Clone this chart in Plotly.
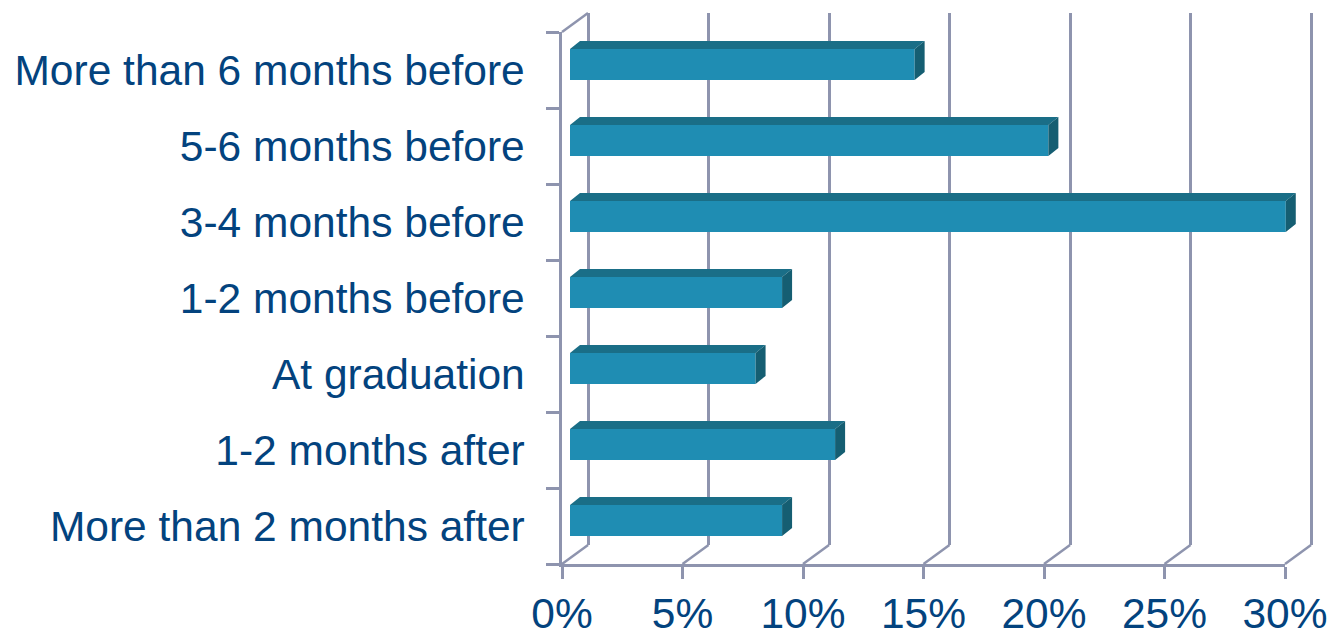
import plotly.graph_objects as go

categories = ["More than 6 months before", "5-6 months before", "3-4 months before",
              "1-2 months before", "At graduation", "1-2 months after", "More than 2 months after"]
values = [14.3, 19.85, 29.7, 8.8, 7.7, 11.0, 8.8]
x_ticks = [0, 5, 10, 15, 20, 25, 30]
x_labels = ["0%", "5%", "10%", "15%", "20%", "25%", "30%"]

W, H = 1330, 632
LEFT, RIGHT, TOP, BOTTOM = 562.0, 1285.0, 32.0, 564.0
BACK_DX, BACK_DY = 26.0, -19.0
BAR_DX, BAR_DY = 8.0, -5.5
XMAX = 30
NCAT = len(categories)
PX_X = (RIGHT - LEFT) / XMAX
PX_Y = (BOTTOM - TOP) / NCAT
BAR_W = 31 / PX_Y
DX, DY = 10 / PX_X, 8 / PX_Y

LINE = "#8E94AE"
LW = 2.5
TEXT = "#03437E"
C_FRONT = "#1F8DB3"
C_TOP = "#1A6E87"
C_SIDE = "#155E72"
FONT = "Liberation Sans"
FS = 42.5


def xdom(shift, pad0=0.0, pad1=0.0):
    return [(LEFT + shift - pad0) / W, (RIGHT + shift + pad1) / W]


def ydom(shift, pad_top=0.0, pad_bottom=0.0):
    return [1 - (BOTTOM + shift + pad_bottom) / H, 1 - (TOP + shift - pad_top) / H]


fig = go.Figure()

# invisible carrier so the back-wall gridlines are drawn
fig.add_trace(go.Scatter(x=values, y=list(range(NCAT)), mode="markers", marker=dict(opacity=0),
                         hoverinfo="skip", xaxis="x", yaxis="y"))

# connectors between the front axes and the back wall, in front-axis units
bx, by = BACK_DX / PX_X, -BACK_DY / PX_Y
cx, cy = [], []
for t in x_ticks:
    cx += [t, t + bx, None]
    cy += [NCAT - 0.5, NCAT - 0.5 - by, None]
cx += [0, bx, None]
cy += [-0.5, -0.5 - by, None]
fig.add_trace(go.Scatter(x=cx, y=cy, mode="lines", line=dict(color=LINE, width=LW),
                         hoverinfo="skip", xaxis="x4", yaxis="y4"))

# front faces
fig.add_trace(go.Bar(x=values, y=list(range(NCAT)), orientation="h", width=BAR_W,
                     marker=dict(color=C_FRONT, line=dict(width=0)),
                     hovertext=categories, hoverinfo="text+x", xaxis="x3", yaxis="y3"))

# top and side faces
tx, ty, sx, sy = [], [], [], []
for i, v in enumerate(values):
    t, b = i - BAR_W / 2, i + BAR_W / 2
    tx += [0, DX, v + DX, v, 0, None]
    ty += [t, t - DY, t - DY, t, t, None]
    sx += [v, v + DX, v + DX, v, v, None]
    sy += [t, t - DY, b - DY, b, t, None]
fig.add_trace(go.Scatter(x=tx, y=ty, mode="lines", fill="toself", fillcolor=C_TOP,
                         line=dict(width=0, color=C_TOP), hoverinfo="skip", xaxis="x3", yaxis="y3"))
fig.add_trace(go.Scatter(x=sx, y=sy, mode="lines", fill="toself", fillcolor=C_SIDE,
                         line=dict(width=0, color=C_SIDE), hoverinfo="skip", xaxis="x3", yaxis="y3"))

# invisible carrier so the front axes are drawn
fig.add_trace(go.Scatter(x=values, y=list(range(NCAT)), mode="markers", marker=dict(opacity=0),
                         hoverinfo="skip", xaxis="x2", yaxis="y2"))

yrange = [NCAT - 0.5, -0.5]
hidden = dict(showticklabels=False, ticks="", showline=False, zeroline=False, showgrid=False,
              automargin=False)
XPAD = 0.5   # keeps the first and last wall gridlines away from the plot edges
BARPAD = 1.0 # room for the side face of the longest bar
CPAD = 6.0   # px of room around the connectors

fig.update_layout(
    width=W, height=H, margin=dict(l=0, r=0, t=0, b=0),
    paper_bgcolor="white", plot_bgcolor="rgba(0,0,0,0)", showlegend=False,
    font=dict(family=FONT, size=FS, color=TEXT),
    # back wall
    xaxis=dict(domain=xdom(BACK_DX, XPAD * PX_X, XPAD * PX_X), range=[-XPAD, XMAX + XPAD], anchor="y",
               tickmode="array", tickvals=x_ticks, showgrid=True, gridcolor=LINE, gridwidth=LW,
               showticklabels=False, ticks="", showline=False, zeroline=False, automargin=False),
    yaxis=dict(domain=ydom(BACK_DY), range=yrange, anchor="x", **hidden),
    # front axes with tick labels
    xaxis2=dict(domain=xdom(0), range=[0, XMAX], anchor="y2", tickmode="array", automargin=False,
                tickvals=x_ticks, ticktext=x_labels, ticks="outside", ticklen=12, tickwidth=LW,
                ticklabelstandoff=-2, tickcolor=LINE, showline=True, linecolor=LINE, linewidth=LW,
                showgrid=False, zeroline=False, tickfont=dict(size=FS, color=TEXT)),
    yaxis2=dict(domain=ydom(0), range=yrange, anchor="x2", tickmode="array", automargin=False,
                tickvals=list(range(NCAT)), ticktext=categories, ticks="", ticklen=0,
                ticklabelstandoff=26, showline=True, linecolor=LINE, linewidth=LW,
                showgrid=False, zeroline=False, tickfont=dict(size=FS, color=TEXT),
                minor=dict(tickmode="array", tickvals=[i - 0.5 for i in range(NCAT + 1)],
                           ticks="outside", ticklen=13, tickwidth=LW, tickcolor=LINE, showgrid=False)),
    # bars
    xaxis3=dict(domain=xdom(BAR_DX, 0, BARPAD * PX_X), range=[0, XMAX + BARPAD], anchor="y3", **hidden),
    yaxis3=dict(domain=ydom(BAR_DY), range=yrange, anchor="x3", **hidden),
    # connector plane
    xaxis4=dict(domain=xdom(0, CPAD, BACK_DX + CPAD), range=[-CPAD / PX_X, XMAX + (BACK_DX + CPAD) / PX_X],
                anchor="y4", **hidden),
    yaxis4=dict(domain=ydom(0, -BACK_DY + CPAD, CPAD),
                range=[NCAT - 0.5 + CPAD / PX_Y, -0.5 - (-BACK_DY + CPAD) / PX_Y], anchor="x4", **hidden),
)

fig.write_html("out.html", config={"displayModeBar": False},
               post_script="document.body.style.margin='0';")
